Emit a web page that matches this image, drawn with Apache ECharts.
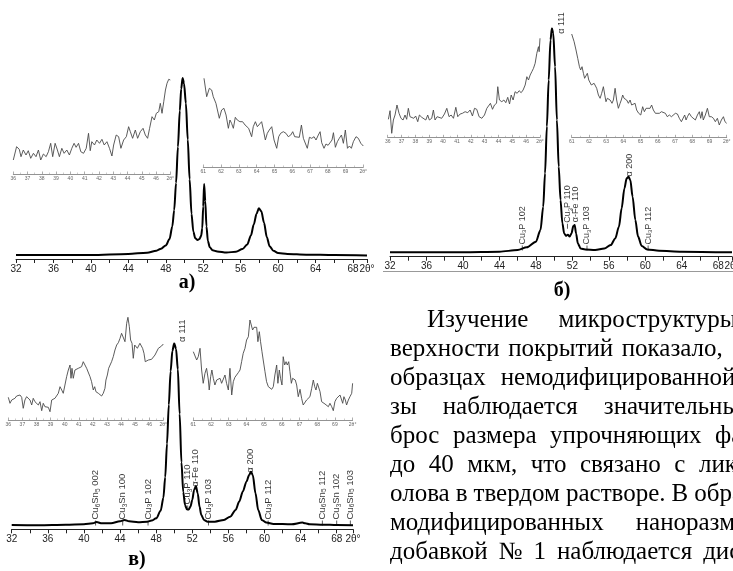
<!DOCTYPE html>
<html>
<head>
<meta charset="utf-8">
<script src="https://cdn.jsdelivr.net/npm/echarts@6/dist/echarts.min.js"></script>
<style>
html,body{margin:0;padding:0;background:#fff;}
#chart{width:733px;height:571px;}
</style>
</head>
<body>
<div id="chart"></div>
<script>
// основные кривые: [2θ, интенсивность], максимум = 100
var mainA = [[32,2.2],[36,2.2],[40,2.2],[44,2.8],[46,3.5],[47,4.6],[47.5,5.7],[48,7.5],[48.4,11],[48.7,18],[48.9,27],[49.1,42],[49.3,62],[49.5,82],[49.65,94],[49.8,100],[49.95,97],[50.15,86],[50.35,66],[50.55,44],[50.75,25],[50.95,15],[51.15,11.5],[51.4,10.5],[51.6,11],[51.78,12.8],[51.9,17],[52,29],[52.1,41.5],[52.22,32],[52.35,18],[52.5,10],[52.7,6.5],[53,4.8],[53.5,4.2],[54.5,3.6],[55.5,4],[56.2,5.5],[56.7,8],[57.1,13],[57.4,19],[57.7,25],[57.95,28],[58.2,26.5],[58.5,20],[58.8,12],[59.1,7],[59.5,4.5],[60,3.3],[61,2.8],[63,2.4],[66,2.2],[69.5,2]];
var mainB = [[32,1.9],[36,1.9],[40,2],[44,2.2],[46,2.9],[47,4.1],[48,6.6],[48.5,11.7],[48.8,21.9],[49,36.5],[49.2,57],[49.4,77.4],[49.6,94.9],[49.75,100],[49.9,97.8],[50.1,83.2],[50.3,59.9],[50.5,39.4],[50.7,24.8],[50.9,14.6],[51.1,10.2],[51.3,9.1],[51.5,9.6],[51.7,8.8],[51.9,10.2],[52.1,13.4],[52.25,13.9],[52.4,10.2],[52.6,5.8],[52.9,3.6],[53.4,3.2],[54.5,2.9],[55.5,3.6],[56.2,5.1],[56.7,8],[57.1,13.1],[57.4,21.2],[57.7,29.9],[57.95,34.3],[58.15,35],[58.35,33.6],[58.6,26.3],[58.9,16.1],[59.2,8.8],[59.6,4.7],[60.2,3.2],[61.5,2.6],[64,2.2],[69.5,1.9]];
var mainC = [[32,2.3],[35,2.2],[38,2.5],[40,2.7],[41,3.2],[41.4,3.9],[42,3.2],[43,3.2],[44,4.3],[44.5,5],[45,4.3],[46,3.8],[47,4.1],[47.5,4.7],[48,5.9],[48.5,10],[48.8,17],[49,28],[49.2,46],[49.4,67],[49.6,85],[49.8,96],[50,100],[50.2,97],[50.4,86],[50.6,62],[50.8,36],[51,20],[51.2,13],[51.4,10.8],[51.6,10.6],[51.8,12.2],[52,15.8],[52.2,21.1],[52.4,23.3],[52.6,19.4],[52.8,12.2],[53,7.7],[53.3,5],[53.7,4.1],[54.5,4.1],[55.5,5],[56.2,6.8],[56.8,10.4],[57.2,14.9],[57.6,20.3],[58,25.6],[58.3,29.2],[58.5,31],[58.7,29.2],[59,19.4],[59.3,10.4],[59.7,5],[60.2,3.6],[61,2.9],[63,2.7],[64.2,3.6],[64.5,3.2],[65,2.7],[66.5,2.5],[68,2.3],[69.8,2.2]];

// вставки (увеличенный фон)
var insetAL = [[36,14],[36.23,27.3],[36.42,24.7],[36.54,17.3],[36.7,24],[36.89,19],[37.05,23.3],[37.22,15.7],[37.41,20.7],[37.59,17.3],[37.76,24],[37.92,14],[38.11,20],[38.3,17.3],[38.46,22.3],[38.62,30.7],[38.76,17.3],[38.93,30.7],[39.09,24],[39.23,17.3],[39.4,25.7],[39.56,20.7],[39.75,24],[39.93,19],[40.1,25.7],[40.26,30.7],[40.4,26.7],[40.57,30.7],[40.73,22.3],[40.92,20.7],[41.11,25.7],[41.27,40.7],[41.39,23.3],[41.5,32.3],[41.69,29],[41.85,34],[42.04,30.7],[42.21,34.7],[42.37,29],[42.56,32.3],[42.74,25.7],[42.91,18],[43.03,29],[43.21,39],[43.38,37.3],[43.54,25.7],[43.73,34],[43.92,37.3],[44.08,47.3],[44.2,42.3],[44.36,35.7],[44.55,44],[44.71,35.7],[44.9,42.3],[45.09,45.7],[45.25,39],[45.41,35.7],[45.55,45.7],[45.72,57.3],[45.88,54],[46.02,60.7],[46.19,62.3],[46.3,70.7],[46.42,60.7],[46.54,72.3],[46.66,84],[46.77,90.7],[46.89,94.7],[47,94]];
var insetAR = [[61.04,88.7],[61.19,70.3],[61.34,78.7],[61.47,77],[61.56,70.3],[61.71,63.7],[61.79,65.3],[61.9,48.7],[62.03,57],[62.16,58.7],[62.28,52],[62.41,38.7],[62.5,47],[62.59,43.7],[62.69,38.7],[62.8,49.7],[62.91,47],[63.06,45.3],[63.21,45.3],[63.35,42],[63.44,43.7],[63.55,38.7],[63.63,37],[63.72,30.3],[63.81,40.3],[63.93,45.3],[64.04,40.3],[64.15,42],[64.28,45.3],[64.38,37],[64.49,27],[64.6,33.7],[64.71,37],[64.85,40.3],[64.98,27],[65.13,18.7],[65.24,30.3],[65.35,33.7],[65.5,35.3],[65.65,33.7],[65.78,30.3],[65.92,32],[66.03,35.3],[66.14,30.3],[66.25,30.3],[66.4,29.7],[66.52,42],[66.63,28.7],[66.74,27],[66.85,18.7],[66.97,29.7],[67.1,28.7],[67.23,30.3],[67.34,27],[67.47,32],[67.57,35.3],[67.66,24.3],[67.79,18.7],[67.9,23],[68.02,21.7],[68.13,19.7],[68.24,27],[68.32,34.3],[68.43,19.7],[68.54,25.3],[68.65,28.7],[68.77,32],[68.88,23.7],[68.99,37],[69.11,18.7],[69.22,21],[69.33,18.7],[69.44,25.3],[69.59,30.3],[69.72,28.7],[69.86,23.7],[70,21]];
var insetBL = [[36.05,18],[36.17,26.6],[36.29,4],[36.41,17.3],[36.53,22.3],[36.67,32.3],[36.82,24],[36.96,19],[37.11,17.3],[37.25,22.3],[37.37,18],[37.49,29],[37.61,20.6],[37.73,22.3],[37.88,19],[38.02,21.3],[38.17,15.6],[38.29,22.3],[38.46,20],[38.6,21.3],[38.75,17.3],[38.89,22.3],[39.01,17.3],[39.18,19],[39.3,27.3],[39.42,17.3],[39.57,20.6],[39.71,20.6],[39.9,19],[40.1,23.3],[40.27,29],[40.43,20.6],[40.58,22.3],[40.75,19],[40.92,30],[41.06,20.6],[41.23,23.3],[41.4,24],[41.59,25.6],[41.78,24.6],[41.95,27.3],[42.12,21.3],[42.27,29],[42.43,28],[42.6,20.6],[42.8,19],[42.99,22.3],[43.16,29],[43.28,30],[43.42,34],[43.57,28],[43.71,32.3],[43.86,34],[43.95,50.6],[44.07,37.3],[44.24,35.6],[44.39,37.3],[44.53,34.6],[44.67,40],[44.8,33.3],[44.92,42.3],[45.06,37.3],[45.2,45.6],[45.35,44],[45.49,46.6],[45.64,44.6],[45.78,47.3],[45.93,52.3],[46.05,60.6],[46.17,57.3],[46.29,62.3],[46.41,65.6],[46.53,69],[46.65,74],[46.77,84],[46.89,90.6],[46.94,85.6],[47,99]];
var insetBR = [[61,103.3],[61.14,95.6],[61.25,87.3],[61.35,79],[61.45,70.6],[61.52,67.3],[61.6,70.6],[61.68,64],[61.75,59],[61.83,60.6],[61.91,64],[61.99,57.3],[62.06,59],[62.14,52.3],[62.22,50.6],[62.3,54],[62.37,55.6],[62.45,49],[62.55,42.3],[62.65,39],[62.74,44],[62.84,50.6],[62.92,42.3],[62.99,35.6],[63.07,39],[63.15,37.3],[63.23,37.3],[63.34,34],[63.42,37.3],[63.52,49],[63.61,37.3],[63.71,29],[63.81,34],[63.88,37.3],[63.96,42.3],[64.04,39],[64.12,39],[64.19,37.3],[64.29,34],[64.39,37.3],[64.48,32.3],[64.58,30.6],[64.68,34],[64.77,27.3],[64.89,24],[65.01,22.3],[65.12,30.6],[65.22,25.6],[65.32,29],[65.43,27.3],[65.55,29],[65.64,32.3],[65.74,27.3],[65.86,24],[65.97,22.3],[66.09,24],[66.21,25.6],[66.32,27.3],[66.44,24],[66.55,20.6],[66.67,22.3],[66.79,20.6],[66.9,22.3],[67.02,24],[67.14,23.3],[67.25,19],[67.37,15.6],[67.48,17.3],[67.56,22.3],[67.64,17.3],[67.72,20.6],[67.83,24],[67.95,20.6],[68.06,22.3],[68.18,17.3],[68.3,22.3],[68.41,25.6],[68.49,19],[68.57,25.6],[68.64,17.3],[68.76,22.3],[68.88,29],[68.99,20.6],[69.11,20.6],[69.23,19],[69.34,15.6],[69.46,19],[69.57,12.3],[69.69,17.3],[69.81,20.6],[69.9,15.6],[70,14]];
var insetCL = [[36,22.7],[36.12,16.7],[36.24,20],[36.35,18.3],[36.47,21.7],[36.59,24],[36.71,22.7],[36.83,25],[36.95,22.7],[37.06,11.7],[37.18,20],[37.3,23.3],[37.42,21.7],[37.54,20],[37.66,15],[37.77,21.7],[37.89,18.3],[38.01,16.7],[38.13,15],[38.25,18.3],[38.37,9.3],[38.48,16.7],[38.6,13.3],[38.72,15],[38.84,12.7],[38.96,8.3],[39.08,20],[39.19,18.3],[39.31,21.7],[39.43,20],[39.55,26.7],[39.67,33.3],[39.79,30],[39.9,26.7],[40.02,35],[40.14,43.3],[40.26,50],[40.38,55],[40.45,41.7],[40.52,51.7],[40.61,41.7],[40.73,50],[40.85,51.7],[40.97,51.7],[41.09,50],[41.2,53.3],[41.32,58.3],[41.44,55],[41.56,51.7],[41.68,50],[41.8,43.3],[41.91,38.3],[42.03,30],[42.13,33.3],[42.22,28.3],[42.39,26.7],[42.51,25],[42.62,24],[42.74,26.7],[42.86,31.7],[42.93,40],[43.03,45],[43.12,51.7],[43.22,50.7],[43.33,58.3],[43.45,63.3],[43.57,70],[43.69,75],[43.81,77.3],[43.93,81.7],[44.04,86.7],[44.16,86.7],[44.28,78.3],[44.4,96.7],[44.49,102.7],[44.59,93.3],[44.68,80],[44.78,76.7],[44.87,61.7],[44.97,75],[45.06,76.7],[45.16,71.7],[45.25,73.3],[45.34,76.7],[45.44,78.3],[45.53,71.7],[45.63,66.7],[45.72,58.3],[45.82,56.7],[45.94,60],[46.05,59.3],[46.17,60.7],[46.29,60],[46.41,65],[46.53,63.3],[46.65,71.7],[46.76,73.3],[46.88,74],[47,76]];
var insetCR = [[61,68.3],[61.09,70],[61.19,60],[61.28,63.3],[61.38,71.7],[61.47,50],[61.56,36.7],[61.66,46.7],[61.75,51.7],[61.85,40],[61.9,30],[61.98,43.3],[62.05,50],[62.13,41.7],[62.22,35],[62.32,40],[62.41,38.3],[62.51,41.7],[62.6,36.7],[62.69,38.3],[62.79,45],[62.88,36.7],[62.98,30],[63.07,51.7],[63.17,25],[63.26,38.3],[63.35,42.7],[63.45,44],[63.54,47.3],[63.64,50],[63.73,58.3],[63.82,66.7],[63.92,71.7],[64.01,80],[64.11,83.3],[64.2,100],[64.28,100.7],[64.35,90],[64.43,92.7],[64.5,91.7],[64.58,92.7],[64.65,78.3],[64.73,88.3],[64.8,78.3],[64.88,68.3],[64.95,60],[65.05,48.3],[65.14,38.3],[65.24,33.3],[65.33,31.7],[65.43,30.7],[65.52,33.3],[65.61,45],[65.71,55],[65.78,36.7],[65.86,50],[65.93,41.7],[66.01,35],[66.08,63.3],[66.16,55],[66.24,58.3],[66.31,55],[66.39,58.3],[66.46,48.3],[66.54,36.7],[66.61,41.7],[66.69,41.7],[66.76,40],[66.84,35],[66.93,23.3],[67.03,30.7],[67.12,21.7],[67.21,15],[67.31,16.7],[67.4,20],[67.5,21.7],[67.59,23.3],[67.69,31.7],[67.78,40],[67.86,33.3],[67.93,30],[68.01,36.7],[68.08,35],[68.16,28.3],[68.25,18.3],[68.34,16.7],[68.44,16],[68.53,15],[68.63,13.3],[68.72,16.7],[68.82,13.3],[68.91,9.3],[69,18.3],[69.1,21.7],[69.19,21.7],[69.29,25],[69.38,23.3],[69.44,16.7],[69.51,23.3],[69.59,20],[69.66,15],[69.76,20],[69.85,23.3],[69.95,26.7],[70,36.7]];

// подписи пиков
var peakBName = ['Cu_3P 102','Cu_3P 110','α-Fe 110','Cu_3P 103','α 200','Cu_3P 112','α 111'];
var peakBX = [46.5,51.45,52.3,53.6,58.3,60.3,50.85];
var peakBY = [5.1,14.6,16,5.1,36,5.1,98.5];
var peakCName = ['Cu_6Sn_5 002','Cu_3Sn 100','Cu_3P 102','Cu_3P 110','α-Fe 110','Cu_3P 103','α 200','Cu_3P 112','Cu_6Sn_5 112','Cu_3Sn 102','Cu_6Sn_5 103','α 111'];
var peakCX = [41.3,44.3,47.1,51.5,52.35,53.8,58.4,60.4,66.4,68.0,69.5,50.9];
var peakCY = [5,5,5,13.1,24,5,31.5,5,5,5,5,101.8];

// текст справа (строки по ширине, обрезаны краем)
var textWords = [
    ['Изучение','микроструктуры'],
    ['верхности','покрытий','показало,'],
    ['образцах','немодифицированной'],
    ['зы','наблюдается','значительный'],
    ['брос','размера','упрочняющих','фаз'],
    ['до','40','мкм,','что','связано','с','ликвацией'],
    ['олова','в','твердом','растворе.','В','образцах'],
    ['модифицированных','наноразмерной'],
    ['добавкой','№','1','наблюдается','дисперсное']
];
var textStart = [427,390,390,390,390,390,390,390,390];
var textGap = [30,8.5,15,26,13.5,13.5,6,32,11];

var chart = echarts.init(document.getElementById('chart'));

function rich(s) {
    return '{n|' + s.replace(/_(\d)/g, '}{s|$1}{n|') + '}';
}
function peaks(names, xs, ys) {
    var arr = [];
    for (var i = 0; i < names.length; i++) {
        var tick = names[i].indexOf('Cu') === 0;
        arr.push({
            value: [xs[i], ys[i]],
            symbolSize: tick ? [0.8, 5] : 0,
            label: {formatter: rich(names[i])}
        });
    }
    return arr;
}
function peakSeries(idx, names, xs, ys, size) {
    return {
        type: 'scatter', xAxisIndex: idx, yAxisIndex: idx, clip: false, silent: true, z: 5,
        symbol: 'rect', symbolOffset: [0, 3], itemStyle: {color: '#000'},
        data: peaks(names, xs, ys),
        label: {
            show: true, rotate: 90, position: 'top', distance: 1,
            align: 'left', verticalAlign: 'middle', color: '#000',
            rich: {
                n: {fontSize: size, lineHeight: size + 2, fontFamily: 'Liberation Sans', color: '#000'},
                s: {fontSize: size - 3, lineHeight: size - 3, verticalAlign: 'bottom', fontFamily: 'Liberation Sans', color: '#000'}
            }
        }
    };
}
function mainX(idx, max) {
    return {
        type: 'value', gridIndex: idx, min: 32, max: max, interval: 2,
        axisLine: {lineStyle: {color: '#222', width: 1}},
        axisTick: {length: 4, lineStyle: {color: '#222'}},
        splitLine: {show: false},
        axisLabel: {
            margin: 5, fontSize: 10, color: '#222', fontFamily: 'Liberation Sans', showMaxLabel: true,
            formatter: function (v) {
                if (v > max - 0.01) return '2θ°';
                return v % 4 === 0 ? String(v) : '';
            }
        }
    };
}
function insetX(idx, min, max) {
    return {
        type: 'value', gridIndex: idx, min: min, max: max, interval: 1,
        axisLine: {lineStyle: {color: '#777', width: 0.8}},
        axisTick: {inside: true, length: 2.5, lineStyle: {color: '#777', width: 0.6}},
        minorTick: {show: true, splitNumber: 2, length: 1.5, lineStyle: {color: '#999', width: 0.5}},
        splitLine: {show: false},
        axisLabel: {
            margin: 2, fontSize: 5, color: '#666', fontFamily: 'Liberation Sans',
            formatter: function (v) { return v === max ? '2θ°' : String(v); }
        }
    };
}
function mainLine(idx, data) {
    return {
        type: 'line', xAxisIndex: idx, yAxisIndex: idx, data: data, symbol: 'none', silent: true,
        smooth: 0.3, smoothMonotone: 'x', lineStyle: {color: '#000', width: 2}
    };
}
function insetLine(idx, data) {
    return {
        type: 'line', xAxisIndex: idx, yAxisIndex: idx, data: data, symbol: 'none', silent: true,
        lineStyle: {color: '#4a4a4a', width: 0.9}
    };
}

// графика: подписи панелей и текст
var graphic = [
    {type: 'text', x: 187, y: 283, style: {text: 'а)', font: 'bold 20px "Liberation Serif"', fill: '#000', align: 'center', verticalAlign: 'middle'}},
    {type: 'text', x: 562, y: 291, style: {text: 'б)', font: 'bold 20px "Liberation Serif"', fill: '#000', align: 'center', verticalAlign: 'middle'}},
    {type: 'text', x: 137, y: 560, style: {text: 'в)', font: 'bold 20px "Liberation Serif"', fill: '#000', align: 'center', verticalAlign: 'middle'}},
    {type: 'line', shape: {x1: 383, y1: 271.5, x2: 733, y2: 271.5}, style: {stroke: '#999', lineWidth: 1}}
];
var textFont = '25px "Liberation Serif"';
var ctx = document.createElement('canvas').getContext('2d');
ctx.font = textFont;
for (var i = 0; i < textWords.length; i++) {
    var x = textStart[i];
    for (var j = 0; j < textWords[i].length; j++) {
        graphic.push({
            type: 'text', x: x, y: 320 + i * 29,
            style: {text: textWords[i][j], font: textFont, fill: '#000', verticalAlign: 'middle'}
        });
        x += ctx.measureText(textWords[i][j]).width + textGap[i];
    }
}

var grids = [
    {left: 16, top: 78, width: 351, height: 181},       // а
    {left: 13.3, top: 64, width: 157, height: 110},
    {left: 203.3, top: 57, width: 160, height: 110},
    {left: 390, top: 28.3, width: 342, height: 228.4},  // б
    {left: 387.7, top: 27.3, width: 152.3, height: 110},
    {left: 571.7, top: 27.3, width: 155, height: 110},
    {left: 11.7, top: 343.3, width: 341.3, height: 186}, // в
    {left: 8.3, top: 310, width: 155, height: 110},
    {left: 193.3, top: 310, width: 159.3, height: 110}
];
var yAxes = [];
for (var k = 0; k < grids.length; k++) {
    grids[k].outerBoundsMode = 'none';
    grids[k].containLabel = false;
    yAxes.push({type: 'value', gridIndex: k, min: 0, max: (k % 3 === 0) ? 100 : 110, show: false});
}

chart.setOption({
    animation: false,
    backgroundColor: '#fff',
    grid: grids,
    xAxis: [
        mainX(0, 69.5), insetX(1, 36, 47), insetX(2, 61, 70),
        mainX(3, 69.5), insetX(4, 36, 47), insetX(5, 61, 70),
        mainX(6, 69.8), insetX(7, 36, 47), insetX(8, 61, 70)
    ],
    yAxis: yAxes,
    series: [
        mainLine(0, mainA), insetLine(1, insetAL), insetLine(2, insetAR),
        mainLine(3, mainB), insetLine(4, insetBL), insetLine(5, insetBR),
        mainLine(6, mainC), insetLine(7, insetCL), insetLine(8, insetCR),
        peakSeries(3, peakBName, peakBX, peakBY, 9),
        peakSeries(6, peakCName, peakCX, peakCY, 9.5)
    ],
    graphic: graphic
});
</script>
</body>
</html>
